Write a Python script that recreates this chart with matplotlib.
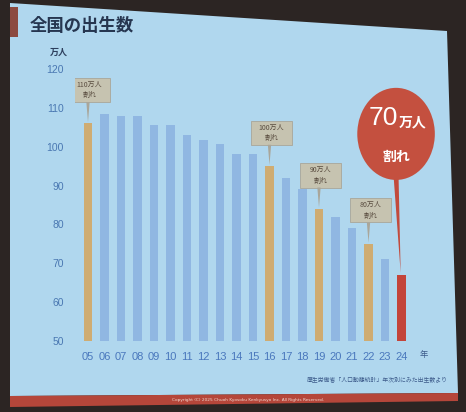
import matplotlib
matplotlib.use("Agg")
import matplotlib.pyplot as plt
from matplotlib.patches import Polygon, Rectangle, Ellipse

plt.rcParams['font.family'] = ['Noto Sans CJK JP', 'DejaVu Sans']

# ---- data (万人) ----
years = ['05', '06', '07', '08', '09', '10', '11', '12', '13', '14',
         '15', '16', '17', '18', '19', '20', '21', '22', '23', '24']
births = [106, 108.5, 108, 108, 105.5, 105.5, 103, 101.8, 100.8, 98,
          98, 95, 92, 89, 84, 81.8, 79, 75, 71, 67]
milestone_years = ['05', '16', '19', '22']
milestone_labels = ['110万人\n割れ', '100万人\n割れ', '90万人\n割れ', '80万人\n割れ']
final_year = '24'
final_label_num = '70'
final_label_unit = '万人'
final_label_sub = '割れ'
yticks = [50, 60, 70, 80, 90, 100, 110, 120]
title = '全国の出生数'
unit_label = '万人'
year_label = '年'
source_text = '厚生労働省「人口動態統計」年次別にみた出生数より'
copyright_text = 'Copyright (C) 2025 Chuoh Kyosoku Kenkyusyo Inc. All Rights Reserved.'

W, H = 466, 412
fig = plt.figure(figsize=(W / 100, H / 100), dpi=100)
fig.patch.set_facecolor('#2c2523')

def fp(x, y):
    return (x / W, 1 - y / H)

# slide background
slide = Polygon([fp(10, 3), fp(447, 31), fp(458, 393), fp(10, 396)],
                closed=True, transform=fig.transFigure, facecolor='#b0d7ee',
                edgecolor='none', zorder=-10)
fig.add_artist(slide)
band = Polygon([fp(10, 396), fp(458, 393), fp(458, 401), fp(10, 407)],
               closed=True, transform=fig.transFigure, facecolor='#b5463a',
               edgecolor='none', zorder=-9)
fig.add_artist(band)
block = Polygon([fp(10, 7), fp(18, 7), fp(18, 37), fp(10, 37)], closed=True,
                transform=fig.transFigure, facecolor='#8c4a40', edgecolor='none', zorder=-9)
fig.add_artist(block)

# axes placement
x0px, pxu = 88, 16.5
xl = (-0.8, 19.8)
left = (x0px + xl[0] * pxu) / W
right = (x0px + xl[1] * pxu) / W
ax = fig.add_axes([left, 1 - 341 / H, right - left, (341 - 69) / H])
ax.set_facecolor('none')
ax.set_xlim(*xl)
ax.set_ylim(50, 120)
for s in ax.spines.values():
    s.set_visible(False)

xs = list(range(len(years)))
colors = []
for y in years:
    if y == final_year:
        colors.append('#c3443a')
    elif y in milestone_years:
        colors.append('#cfac72')
    else:
        colors.append('#90b7e2')
ax.bar(xs, [b - 50 for b in births], bottom=50, width=0.52, color=colors, zorder=2)

ax.set_xticks(xs)
ax.set_xticklabels(years, color='#4a78bd', fontsize=8, family=['Liberation Sans'])
ax.set_yticks(yticks)
ax.set_yticklabels([str(t) for t in yticks], color='#4a78b2', fontsize=7.5, family=['Liberation Sans'])
ax.tick_params(axis='both', length=0)
ax.tick_params(axis='x', pad=8)
ax.tick_params(axis='y', pad=8)

# milestone callouts
box_w, box_h = 2.5, 6.2
for yr, lab in zip(milestone_years, milestone_labels):
    i = years.index(yr)
    v = births[i]
    cy = v + 5.5 + box_h / 2
    ax.add_patch(Rectangle((i - box_w / 2 + 0.1, cy - box_h / 2), box_w, box_h,
                           facecolor='#c6c3b0', edgecolor='#a9a69a', lw=0.6, zorder=4))
    ax.text(i + 0.1, cy, lab, ha='center', va='center', fontsize=5, color='#5a4d40',
            linespacing=1.4, zorder=5)
    ax.add_patch(Polygon([(i - 0.1, cy - box_h / 2), (i + 0.1, cy - box_h / 2), (i, v + 0.3)],
                         closed=True, facecolor='#a9a69a', edgecolor='none', zorder=4))

# big balloon for final year
fi = years.index(final_year)
fv = births[fi]
bcx, bcy = fi - 0.33, 103.3
bw, bh = 4.7, 23.7
ax.add_patch(Polygon([(bcx - 0.15, bcy - bh / 2 + 1), (bcx + 0.15, bcy - bh / 2 + 1), (fi - 0.05, fv + 0.5)],
                     closed=True, facecolor='#c24a3c', edgecolor='none', zorder=6, clip_on=False))
ax.add_patch(Ellipse((bcx, bcy), bw, bh, facecolor='#c4503f', edgecolor='none', zorder=6, clip_on=False))
ax.text(bcx + 0.12, bcy + 4.2, final_label_num, ha='right', va='center', fontsize=19,
        color='white', family=['Liberation Sans'], zorder=7)
ax.text(bcx + 0.15, bcy + 3.0, final_label_unit, ha='left', va='center', fontsize=10,
        color='white', fontweight='bold', zorder=7)
ax.text(bcx, bcy - 6.0, final_label_sub, ha='center', va='center', fontsize=10,
        color='white', fontweight='bold', zorder=7)

# texts on slide
fig.text(*fp(30, 26), title, ha='left', va='center', fontsize=12.5, color='#263650',
         fontweight='bold')
fig.text(*fp(59, 52), unit_label, ha='center', va='center', fontsize=6.5, color='#2c3e5c',
         fontweight='bold')
fig.text(*fp(424, 355), year_label, ha='center', va='center', fontsize=6, color='#3c5a8a')
fig.text(*fp(448, 379), source_text, ha='right', va='center', fontsize=4.2, color='#3c5a8a')
fig.text(*fp(248, 400), copyright_text, ha='center', va='center', fontsize=3.1, color='#f0d8d0',
         family=['DejaVu Sans'])

fig.savefig('out.png', dpi=100)
